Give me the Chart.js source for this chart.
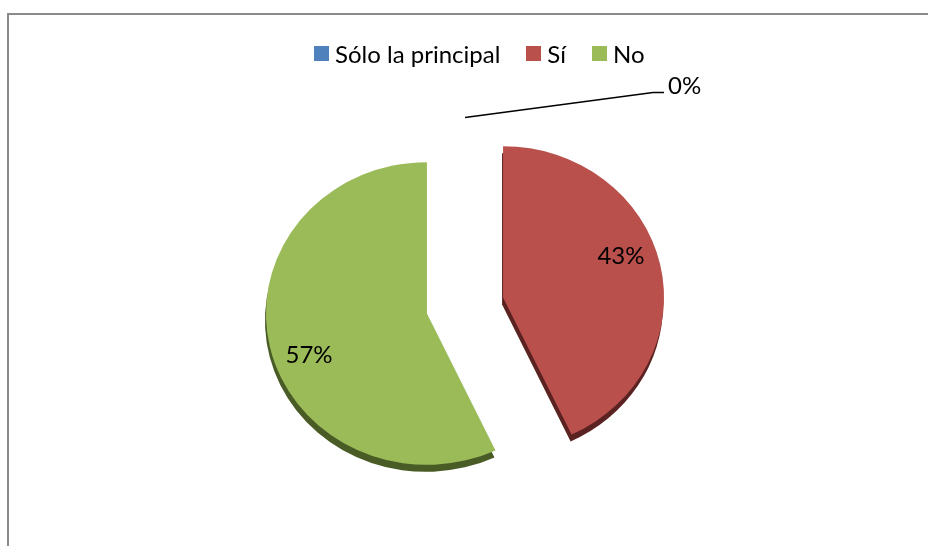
<!DOCTYPE html>
<html lang="es">
<head>
<meta charset="utf-8">
<title>Sólo la principal / Sí / No</title>
<script src="https://cdn.jsdelivr.net/npm/chart.js@4.4.1/dist/chart.umd.min.js"></script>
<style>
    html, body { margin: 0; padding: 0; background: #fff; }
    #wrap { position: relative; width: 928px; height: 546px; overflow: hidden; font-family: Lato, "Open Sans", sans-serif; }
    #marco {
        position: absolute; left: 7px; top: 13px; width: 1000px; height: 600px;
        border-top: 2px solid #8a8a8a; border-left: 2px solid #8a8a8a;
    }
    #grafico { position: absolute; left: 0; top: 0; }
    #leyenda {
        position: absolute; left: 314px; top: 39px;
        display: flex; align-items: center;
        font-size: 24px; color: #000; white-space: nowrap;
    }
    .item { display: flex; align-items: center; margin-right: 26px; }
    .item:last-child { margin-right: 0; }
    .caja { width: 15px; height: 15px; margin-right: 6px; }
</style>
</head>
<body>
<div id="wrap">
    <div id="marco"></div>
    <canvas id="grafico" width="928" height="546"></canvas>
    <div id="leyenda"></div>
</div>

<script>
// datos
const categorias = ["Sólo la principal", "Sí", "No"]
const porcentajes = [0, 43, 57]

// estilo
const colores = ["#4F81BD", "#B9504C", "#9BBB59"]
const coloresLado = ["#2d4a6c", "#5a2220", "#4a5c26"]
const ESCALA_Y = 0.94       // inclinación del "3D"
const GROSOR = 7            // espesor del canto
const EXPLOSION = 39        // separación de cada porción respecto al centro

// vector de separación de una porción
function separar(arc) {
    const mid = (arc.startAngle + arc.endAngle) / 2
    return { dx: Math.cos(mid) * EXPLOSION, dy: Math.sin(mid) * EXPLOSION }
}

// =========================
// torta "3D": canto oscuro + cara achatada y separada
// =========================
const pie3D = {
    id: "pie3D",
    beforeDatasetDraw(chart, args) {
        const ctx = chart.ctx
        const arcs = args.meta.data
        const cx = arcs[0].x, cy = arcs[0].y

        const achatar = () => {
            ctx.translate(cx, cy)
            ctx.scale(1, ESCALA_Y)
            ctx.translate(-cx, -cy)
        }

        // canto: la misma porción, corrida hacia abajo y más oscura
        arcs.forEach((arc, i) => {
            if (arc.circumference <= 0) return
            const { dx, dy } = separar(arc)
            ctx.save()
            ctx.translate(-1, GROSOR)
            achatar()
            ctx.beginPath()
            ctx.moveTo(arc.x + dx, arc.y + dy)
            ctx.arc(arc.x + dx, arc.y + dy, arc.outerRadius, arc.startAngle, arc.endAngle)
            ctx.closePath()
            ctx.fillStyle = coloresLado[i]
            ctx.fill()
            ctx.restore()
        })

        // cara: la dibuja el propio ArcElement
        arcs.forEach(arc => {
            if (arc.circumference <= 0) return
            const { dx, dy } = separar(arc)
            ctx.save()
            achatar()
            ctx.translate(dx, dy)
            arc.draw(ctx)
            ctx.restore()
        })

        return false
    }
}

// =========================
// etiquetas de porcentaje
// =========================
const etiquetas = {
    id: "etiquetas",
    afterDraw(chart) {
        const ctx = chart.ctx
        const meta = chart.getDatasetMeta(0)
        const giro = -0.105

        ctx.save()
        ctx.font = "24px Lato, 'Open Sans', sans-serif"
        ctx.fillStyle = "#000"
        ctx.strokeStyle = "#000"
        ctx.lineWidth = 1.5

        meta.data.forEach((arc, i) => {
            const valor = porcentajes[i]
            const texto = valor + "%"

            if (valor > 0) {
                const mid = (arc.startAngle + arc.endAngle) / 2 + giro
                const r = EXPLOSION + arc.outerRadius * 0.78
                ctx.textAlign = "center"
                ctx.textBaseline = "middle"
                ctx.fillText(texto, arc.x + Math.cos(mid) * r, arc.y + Math.sin(mid) * r * ESCALA_Y)
            } else {
                // porción vacía: línea guía hacia afuera
                const a = arc.startAngle
                const r = arc.outerRadius + EXPLOSION
                const x0 = arc.x + Math.cos(a) * r
                const y0 = arc.y + Math.sin(a) * r * ESCALA_Y
                const x1 = x0 + 188, y1 = y0 - 25
                ctx.beginPath()
                ctx.moveTo(x0, y0)
                ctx.lineTo(x1, y1)
                ctx.lineTo(x1 + 11, y1)
                ctx.stroke()
                ctx.textAlign = "left"
                ctx.textBaseline = "middle"
                ctx.fillText(texto, x1 + 15, y1 - 6)
            }
        })
        ctx.restore()
    }
}

function renderLeyenda() {
    const cont = document.getElementById("leyenda")
    cont.innerHTML = ""
    categorias.forEach((c, i) => {
        const div = document.createElement("div")
        div.className = "item"
        div.innerHTML = `<span class="caja" style="background:${colores[i]}"></span><span>${c}</span>`
        cont.appendChild(div)
    })
}

new Chart(document.getElementById("grafico"), {
    type: "pie",
    data: {
        labels: categorias,
        datasets: [{
            data: porcentajes,
            backgroundColor: colores,
            borderWidth: 0
        }]
    },
    options: {
        responsive: false,
        animation: false,
        radius: 161,
        layout: { padding: { top: 125, bottom: 60, left: 2, right: 0 } },
        plugins: {
            legend: { display: false },
            tooltip: { enabled: false }
        }
    },
    plugins: [pie3D, etiquetas]
})

renderLeyenda()
</script>
</body>
</html>
